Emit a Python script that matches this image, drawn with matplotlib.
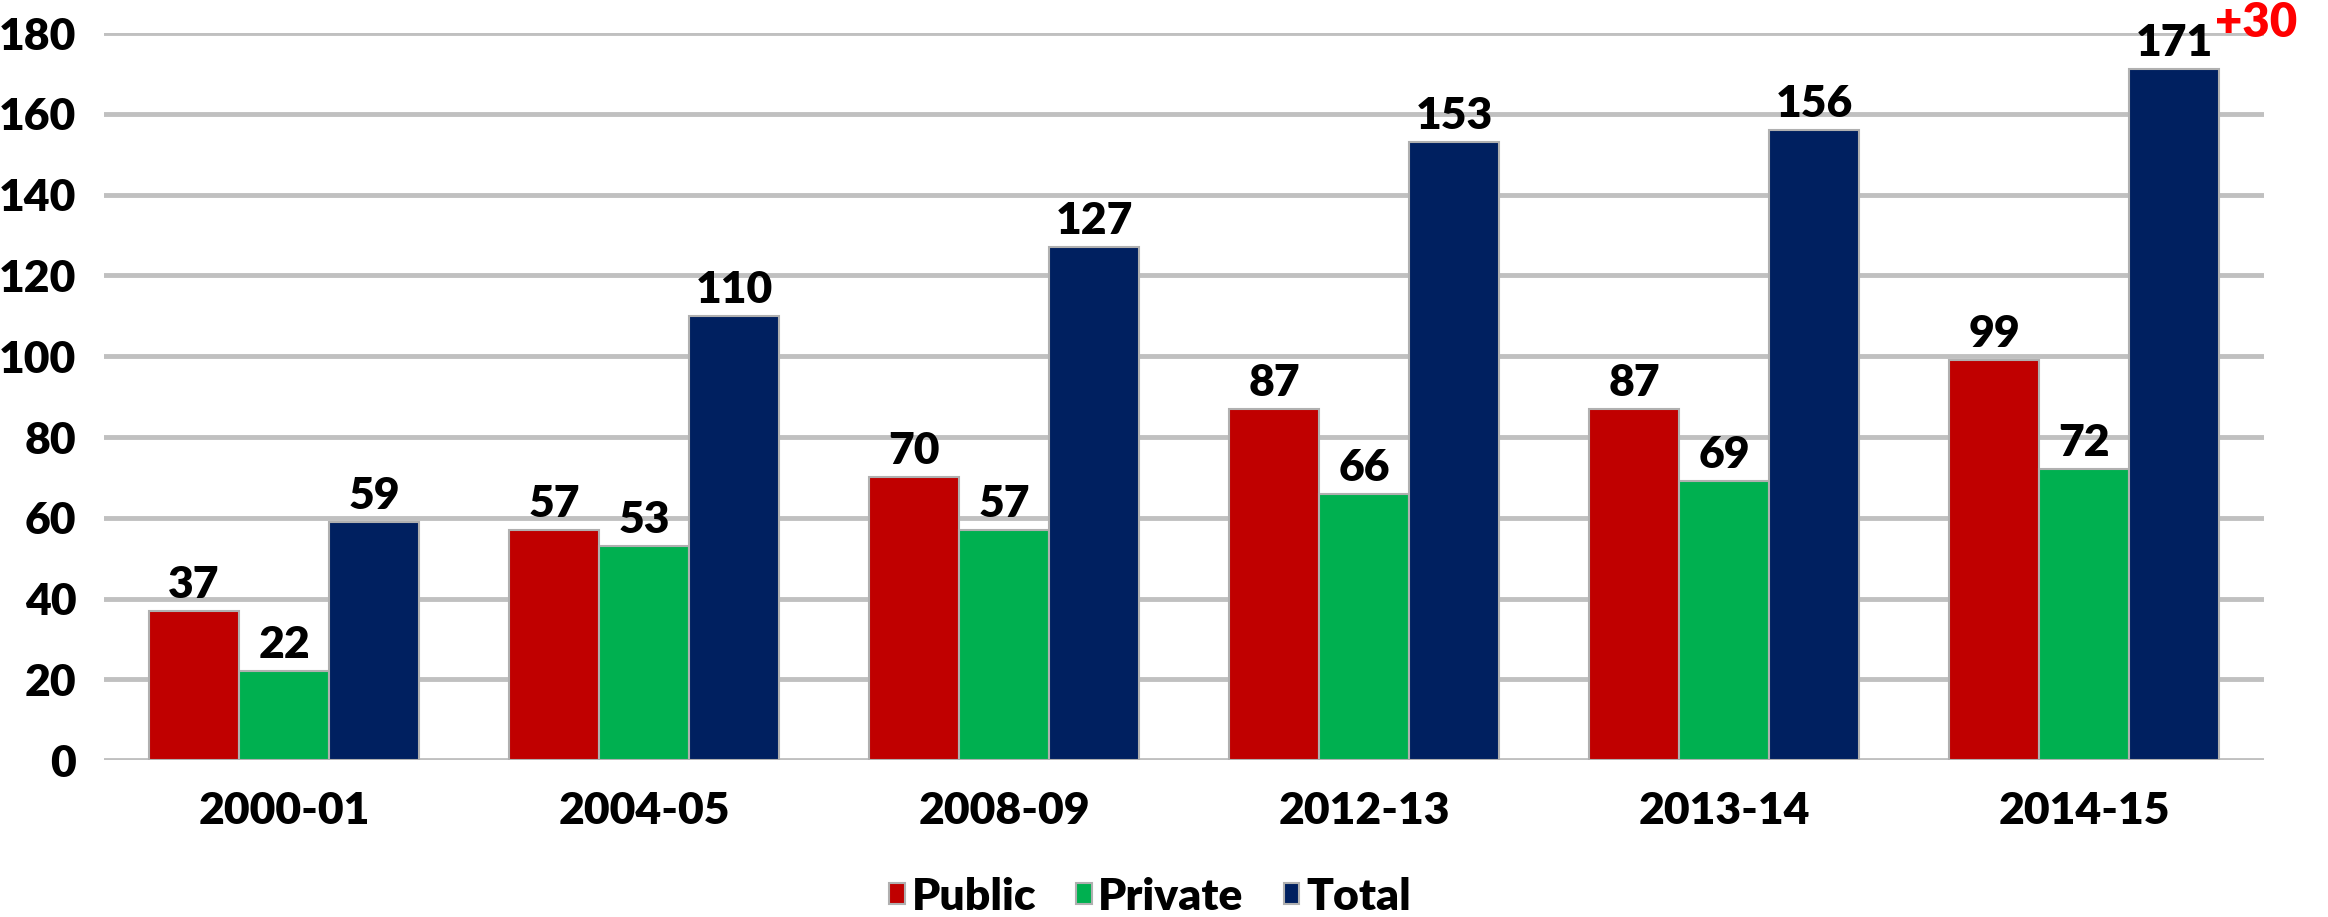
import numpy as np
import matplotlib
matplotlib.use("Agg")
import matplotlib.pyplot as plt

plt.rcParams["font.family"] = ["Lato", "DejaVu Sans"]
plt.rcParams["font.weight"] = "heavy"

years = ["2000-01", "2004-05", "2008-09", "2012-13", "2013-14", "2014-15"]
public = [37, 57, 70, 87, 87, 99]
private = [22, 53, 57, 66, 69, 72]
total = [59, 110, 127, 153, 156, 171]
series_names = ["Public", "Private", "Total"]
colors = ["#C00000", "#00B050", "#002060"]
y_ticks = [0, 20, 40, 60, 80, 100, 120, 140, 160, 180]
note = "+30"

fig = plt.figure(figsize=(23.28, 9.17), dpi=100)
ax = fig.add_axes([0.0447, 0.171, 0.928, 0.793])

x = np.arange(len(years))
w = 0.25
for i, (vals, name, col) in enumerate(zip([public, private, total], series_names, colors)):
    bars = ax.bar(x + (i - 1) * w, vals, width=w, color=col, label=name,
                  edgecolor="#b0b0b0", linewidth=1.5, zorder=3)
    for b, v in zip(bars, vals):
        ax.text(b.get_x() + b.get_width() / 2, v + 1.5, str(v), ha="center", va="bottom",
                fontsize=32, fontweight="heavy", color="black", zorder=4)

ax.set_xlim(-0.5, len(years) - 0.5)
ax.set_ylim(0, 180)
ax.set_yticks(y_ticks)
ax.set_xticks(x)
ax.set_xticklabels(years)
ax.tick_params(axis="both", length=0, labelsize=32)
ax.tick_params(axis="y", pad=20)
ax.tick_params(axis="x", pad=22)
for lab in ax.get_xticklabels() + ax.get_yticklabels():
    lab.set_fontweight("heavy")
ax.yaxis.grid(True, color="#c0c0c0", linewidth=3.5, zorder=0)
ax.set_axisbelow(True)
for s in ax.spines.values():
    s.set_visible(False)

fig.text(0.987, 0.975, note, color="#FF0000", fontsize=34, fontweight="heavy",
         ha="right", va="center")

leg = fig.legend(loc="center", bbox_to_anchor=(0.494, 0.022), ncol=3, frameon=False,
                 fontsize=32, handlelength=0.35, handleheight=0.35, handletextpad=0.15,
                 columnspacing=0.9)
for t in leg.get_texts():
    t.set_fontweight("heavy")

plt.savefig("out.png", dpi=100)
